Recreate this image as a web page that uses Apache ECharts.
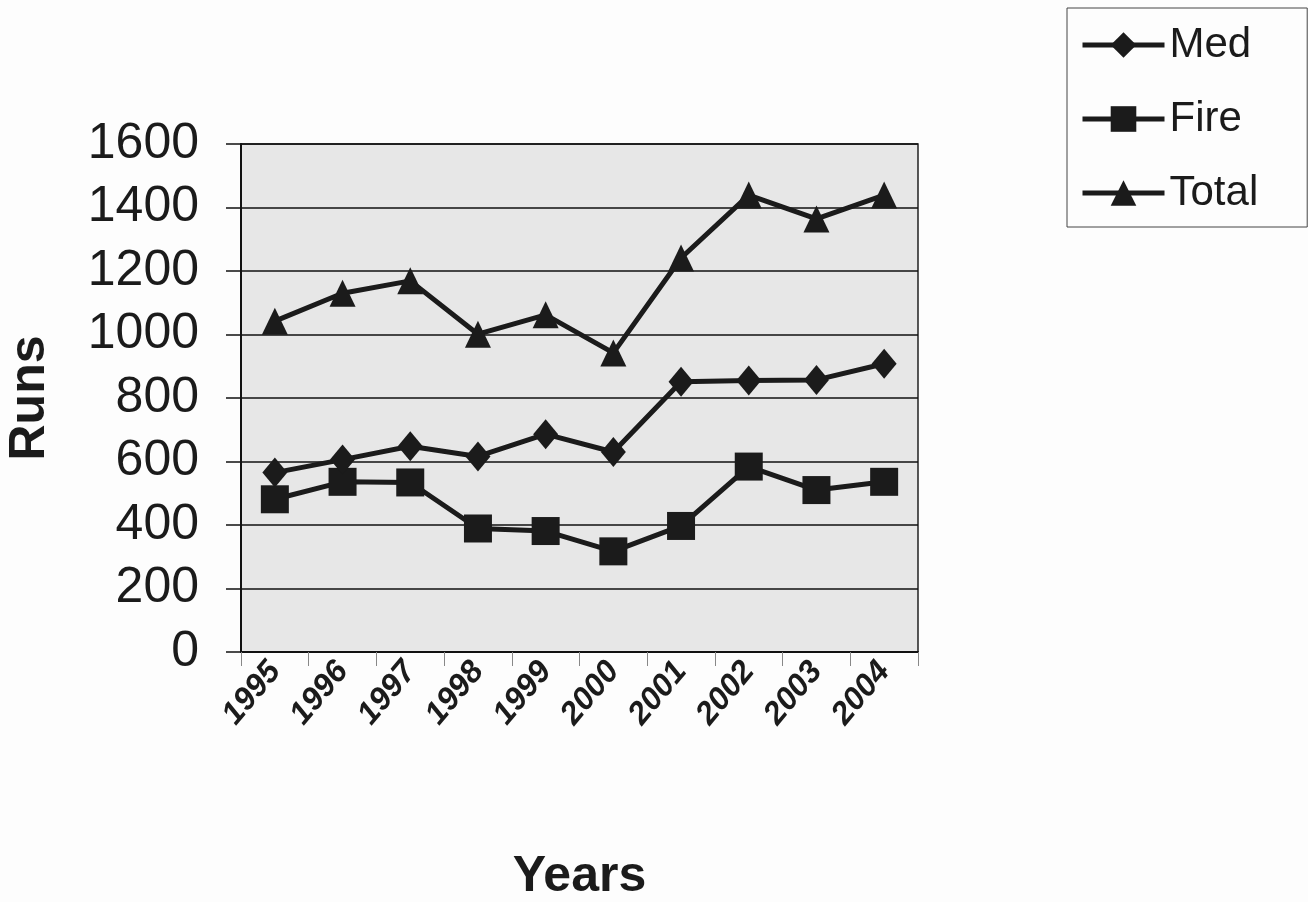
<!DOCTYPE html>
<html>
<head>
<meta charset="utf-8">
<script src="https://cdn.jsdelivr.net/npm/echarts@6/dist/echarts.min.js"></script>
<style>
  html, body { margin: 0; padding: 0; background: #fdfdfd; }
  #chart { width: 1308px; height: 902px; }
</style>
</head>
<body>
<div id="chart"></div>
<script>
// 数据
var years = ['1995', '1996', '1997', '1998', '1999', '2000', '2001', '2002', '2003', '2004'];
var medRuns = [565, 606, 648, 616, 686, 630, 851, 855, 857, 908];
var fireRuns = [481, 536, 534, 389, 381, 317, 397, 584, 510, 536];
var totalRuns = [1042, 1130, 1169, 1001, 1062, 942, 1241, 1439, 1364, 1439];

var chart = echarts.init(document.getElementById('chart'));

var ink = '#1b1b1b';
var font = 'Liberation Sans, Arial, sans-serif';

var option = {
    backgroundColor: '#fdfdfd',
    textStyle: { fontFamily: font, color: ink },
    // 图例
    legend: {
        orient: 'vertical',
        left: 1067,
        top: 8,
        padding: [16, 49, 13, 13],
        itemGap: 32,
        itemWidth: 82,
        itemHeight: 32,
        borderColor: '#444',
        borderWidth: 1,
        lineStyle: { width: 5 },
        textStyle: { fontSize: 42, color: ink, fontFamily: font },
        data: ['Med', 'Fire', 'Total']
    },
    // 绘图区
    grid: {
        left: 241,
        right: 390,
        top: 144,
        bottom: 250,
        containLabel: false,
        outerBoundsMode: 'none',
        show: true,
        backgroundColor: '#e7e7e7',
        borderColor: '#222',
        borderWidth: 1.5
    },
    xAxis: {
        type: 'category',
        data: years,
        name: 'Years',
        nameLocation: 'middle',
        nameGap: 200,
        nameTextStyle: { fontSize: 50, fontWeight: 'bold', color: ink },
        axisLine: { lineStyle: { color: '#111', width: 2 } },
        axisTick: { show: true, length: 14, lineStyle: { color: '#888', width: 1 } },
        axisLabel: {
            interval: 0,
            rotate: 50,
            margin: 14,
            fontSize: 32,
            fontStyle: 'italic',
            fontWeight: 'bold',
            color: ink
        }
    },
    yAxis: {
        type: 'value',
        min: 0,
        max: 1600,
        interval: 200,
        name: 'Runs',
        nameLocation: 'middle',
        nameRotate: 90,
        nameGap: 186,
        nameTextStyle: { fontSize: 50, fontWeight: 'bold', color: ink },
        axisLine: { show: true, lineStyle: { color: '#111', width: 2 } },
        axisTick: { show: true, length: 15, lineStyle: { color: '#111', width: 1.5 } },
        axisLabel: {
            fontSize: 50,
            margin: 42,
            color: ink,
            formatter: function (v) { return String(v); }
        },
        splitLine: { show: true, lineStyle: { color: '#111', width: 1.5 } }
    },
    series: [{
        name: 'Med',
        type: 'line',
        data: medRuns,
        symbol: 'diamond',
        symbolSize: [25, 30],
        lineStyle: { color: ink, width: 5 },
        itemStyle: { color: ink },
        z: 3
    }, {
        name: 'Fire',
        type: 'line',
        data: fireRuns,
        symbol: 'rect',
        symbolSize: [28, 28],
        lineStyle: { color: ink, width: 5 },
        itemStyle: { color: ink },
        z: 2
    }, {
        name: 'Total',
        type: 'line',
        data: totalRuns,
        symbol: 'triangle',
        symbolSize: [26, 27],
        lineStyle: { color: ink, width: 5 },
        itemStyle: { color: ink },
        z: 4
    }]
};

chart.setOption(option);
</script>
</body>
</html>
